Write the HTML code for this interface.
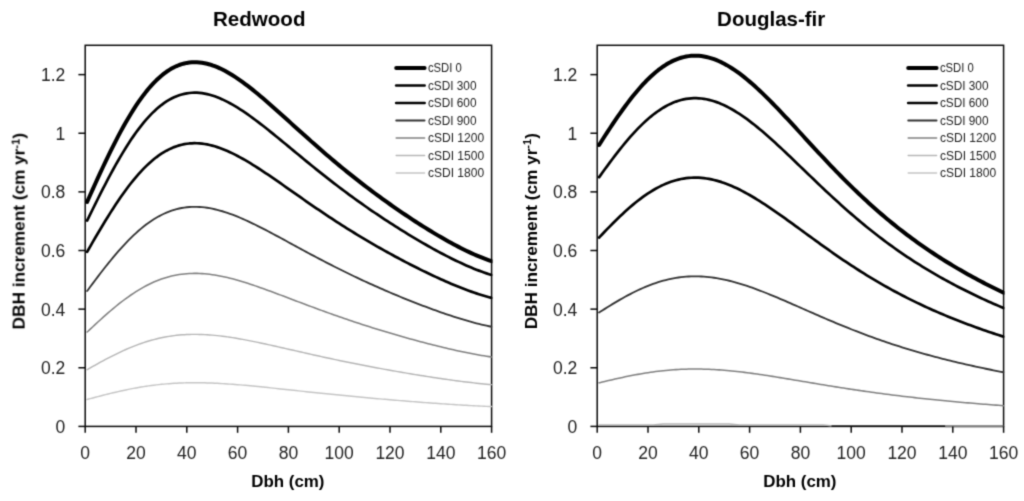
<!DOCTYPE html>
<html><head><meta charset="utf-8"><title>DBH increment</title>
<style>
html,body{margin:0;padding:0;background:#fff;}
svg{display:block;will-change:transform;}
text{font-family:"Liberation Sans",sans-serif;}
.tk{font-size:17.5px;fill:#222222;}
.ttl{font-size:20.8px;font-weight:bold;fill:#000;}
.axl{font-size:16.3px;font-weight:bold;fill:#000;}
.lg{font-size:13.6px;fill:#222222;}
</style></head><body>
<svg width="1024" height="501" viewBox="0 0 1024 501">
<defs><filter id="soft" x="0" y="0" width="1024" height="501" filterUnits="userSpaceOnUse" color-interpolation-filters="sRGB">
<feConvolveMatrix order="3" kernelMatrix="0.02768 0.11101 0.02768 0.11101 0.44521 0.11101 0.02768 0.11101 0.02768" divisor="1" edgeMode="none" preserveAlpha="false"/>
</filter></defs>
<rect x="0" y="0" width="1024" height="501" fill="#ffffff"/>
<g filter="url(#soft)">
<clipPath id="c0"><rect x="82.20" y="45.30" width="410.30" height="383.10"/></clipPath>
<rect x="85.20" y="45.30" width="406.40" height="381.10" fill="none" stroke="#0a0a0a" stroke-width="1.5"/>
<g clip-path="url(#c0)">
<path d="M87.11,201.87 L87.74,200.45 L90.28,194.77 L92.82,189.12 L95.36,183.51 L97.90,177.95 L100.44,172.44 L102.98,167.00 L105.52,161.63 L108.06,156.34 L110.60,151.14 L113.14,146.04 L115.68,141.05 L118.22,136.16 L120.76,131.40 L123.30,126.77 L125.84,122.26 L128.38,117.90 L130.92,113.68 L133.46,109.61 L136.00,105.69 L138.54,101.93 L141.08,98.34 L143.62,94.91 L146.16,91.64 L148.70,88.55 L151.24,85.63 L153.78,82.89 L156.32,80.31 L158.86,77.92 L161.40,75.70 L163.94,73.65 L166.48,71.78 L169.02,70.09 L171.56,68.56 L174.10,67.21 L176.64,66.02 L179.18,65.00 L181.72,64.14 L184.26,63.45 L186.80,62.91 L189.34,62.52 L191.88,62.28 L194.42,62.19 L196.96,62.24 L199.50,62.42 L202.04,62.74 L204.58,63.19 L207.12,63.76 L209.66,64.45 L212.20,65.26 L214.74,66.17 L217.28,67.19 L219.82,68.31 L222.36,69.53 L224.90,70.84 L227.44,72.23 L229.98,73.71 L232.52,75.26 L235.06,76.88 L237.60,78.58 L240.14,80.33 L242.68,82.15 L245.22,84.02 L247.76,85.94 L250.30,87.91 L252.84,89.92 L255.38,91.97 L257.92,94.06 L260.46,96.18 L263.00,98.33 L265.54,100.51 L268.08,102.71 L270.62,104.93 L273.16,107.17 L275.70,109.43 L278.24,111.69 L280.78,113.97 L283.32,116.25 L285.86,118.54 L288.40,120.83 L290.94,123.13 L293.48,125.43 L296.02,127.72 L298.56,130.01 L301.10,132.29 L303.64,134.57 L306.18,136.85 L308.72,139.11 L311.26,141.37 L313.80,143.61 L316.34,145.85 L318.88,148.07 L321.42,150.28 L323.96,152.48 L326.50,154.66 L329.04,156.83 L331.58,158.98 L334.12,161.12 L336.66,163.25 L339.20,165.36 L341.74,167.45 L344.28,169.53 L346.82,171.59 L349.36,173.64 L351.90,175.67 L354.44,177.68 L356.98,179.68 L359.52,181.66 L362.06,183.63 L364.60,185.58 L367.14,187.52 L369.68,189.44 L372.22,191.34 L374.76,193.23 L377.30,195.11 L379.84,196.96 L382.38,198.81 L384.92,200.64 L387.46,202.45 L390.00,204.25 L392.54,206.04 L395.08,207.81 L397.62,209.57 L400.16,211.31 L402.70,213.04 L405.24,214.75 L407.78,216.45 L410.32,218.13 L412.86,219.80 L415.40,221.46 L417.94,223.10 L420.48,224.72 L423.02,226.33 L425.56,227.92 L428.10,229.49 L430.64,231.05 L433.18,232.59 L435.72,234.11 L438.26,235.62 L440.80,237.10 L443.34,238.56 L445.88,240.01 L448.42,241.43 L450.96,242.83 L453.50,244.20 L456.04,245.55 L458.58,246.88 L461.12,248.18 L463.66,249.45 L466.20,250.69 L468.74,251.90 L471.28,253.08 L473.82,254.22 L476.36,255.33 L478.90,256.40 L481.44,257.44 L483.98,258.43 L486.52,259.38 L489.06,260.28 L491.60,261.14" fill="none" stroke="#000000" stroke-width="4.0" stroke-linejoin="round" stroke-linecap="round"/>
<path d="M87.11,220.66 L87.74,219.36 L90.28,214.16 L92.82,208.98 L95.36,203.84 L97.90,198.75 L100.44,193.70 L102.98,188.71 L105.52,183.79 L108.06,178.95 L110.60,174.18 L113.14,169.51 L115.68,164.93 L118.22,160.46 L120.76,156.10 L123.30,151.85 L125.84,147.72 L128.38,143.72 L130.92,139.86 L133.46,136.13 L136.00,132.54 L138.54,129.09 L141.08,125.80 L143.62,122.66 L146.16,119.67 L148.70,116.83 L151.24,114.16 L153.78,111.64 L156.32,109.29 L158.86,107.09 L161.40,105.06 L163.94,103.18 L166.48,101.47 L169.02,99.91 L171.56,98.52 L174.10,97.28 L176.64,96.19 L179.18,95.25 L181.72,94.47 L184.26,93.83 L186.80,93.33 L189.34,92.98 L191.88,92.76 L194.42,92.67 L196.96,92.72 L199.50,92.89 L202.04,93.18 L204.58,93.59 L207.12,94.12 L209.66,94.75 L212.20,95.49 L214.74,96.33 L217.28,97.26 L219.82,98.29 L222.36,99.40 L224.90,100.60 L227.44,101.88 L229.98,103.23 L232.52,104.65 L235.06,106.14 L237.60,107.69 L240.14,109.30 L242.68,110.96 L245.22,112.68 L247.76,114.44 L250.30,116.24 L252.84,118.09 L255.38,119.97 L257.92,121.88 L260.46,123.83 L263.00,125.80 L265.54,127.79 L268.08,129.81 L270.62,131.84 L273.16,133.89 L275.70,135.96 L278.24,138.04 L280.78,140.12 L283.32,142.21 L285.86,144.31 L288.40,146.41 L290.94,148.52 L293.48,150.62 L296.02,152.72 L298.56,154.82 L301.10,156.91 L303.64,159.00 L306.18,161.09 L308.72,163.16 L311.26,165.23 L313.80,167.28 L316.34,169.33 L318.88,171.37 L321.42,173.39 L323.96,175.41 L326.50,177.41 L329.04,179.39 L331.58,181.37 L334.12,183.33 L336.66,185.28 L339.20,187.21 L341.74,189.13 L344.28,191.03 L346.82,192.92 L349.36,194.80 L351.90,196.66 L354.44,198.50 L356.98,200.33 L359.52,202.15 L362.06,203.95 L364.60,205.74 L367.14,207.51 L369.68,209.27 L372.22,211.02 L374.76,212.75 L377.30,214.47 L379.84,216.17 L382.38,217.86 L384.92,219.54 L387.46,221.20 L390.00,222.85 L392.54,224.49 L395.08,226.11 L397.62,227.72 L400.16,229.32 L402.70,230.90 L405.24,232.47 L407.78,234.03 L410.32,235.57 L412.86,237.10 L415.40,238.61 L417.94,240.11 L420.48,241.60 L423.02,243.07 L425.56,244.53 L428.10,245.98 L430.64,247.40 L433.18,248.81 L435.72,250.21 L438.26,251.59 L440.80,252.95 L443.34,254.29 L445.88,255.61 L448.42,256.91 L450.96,258.19 L453.50,259.45 L456.04,260.69 L458.58,261.90 L461.12,263.09 L463.66,264.26 L466.20,265.40 L468.74,266.51 L471.28,267.58 L473.82,268.63 L476.36,269.65 L478.90,270.63 L481.44,271.58 L483.98,272.49 L486.52,273.36 L489.06,274.19 L491.60,274.97" fill="none" stroke="#000000" stroke-width="2.7" stroke-linejoin="round" stroke-linecap="round"/>
<path d="M87.11,251.82 L87.74,250.71 L90.28,246.30 L92.82,241.91 L95.36,237.55 L97.90,233.22 L100.44,228.94 L102.98,224.71 L105.52,220.53 L108.06,216.42 L110.60,212.38 L113.14,208.41 L115.68,204.53 L118.22,200.73 L120.76,197.03 L123.30,193.43 L125.84,189.93 L128.38,186.53 L130.92,183.25 L133.46,180.09 L136.00,177.04 L138.54,174.12 L141.08,171.32 L143.62,168.66 L146.16,166.12 L148.70,163.71 L151.24,161.44 L153.78,159.31 L156.32,157.31 L158.86,155.45 L161.40,153.72 L163.94,152.13 L166.48,150.68 L169.02,149.36 L171.56,148.17 L174.10,147.12 L176.64,146.20 L179.18,145.40 L181.72,144.74 L184.26,144.19 L186.80,143.77 L189.34,143.47 L191.88,143.29 L194.42,143.21 L196.96,143.25 L199.50,143.40 L202.04,143.65 L204.58,143.99 L207.12,144.44 L209.66,144.98 L212.20,145.60 L214.74,146.31 L217.28,147.11 L219.82,147.98 L222.36,148.92 L224.90,149.94 L227.44,151.02 L229.98,152.17 L232.52,153.38 L235.06,154.64 L237.60,155.96 L240.14,157.32 L242.68,158.73 L245.22,160.19 L247.76,161.68 L250.30,163.21 L252.84,164.78 L255.38,166.37 L257.92,168.00 L260.46,169.65 L263.00,171.32 L265.54,173.01 L268.08,174.72 L270.62,176.45 L273.16,178.19 L275.70,179.94 L278.24,181.71 L280.78,183.48 L283.32,185.25 L285.86,187.03 L288.40,188.81 L290.94,190.60 L293.48,192.38 L296.02,194.17 L298.56,195.95 L301.10,197.73 L303.64,199.50 L306.18,201.27 L308.72,203.03 L311.26,204.78 L313.80,206.53 L316.34,208.26 L318.88,209.99 L321.42,211.71 L323.96,213.42 L326.50,215.11 L329.04,216.80 L331.58,218.48 L334.12,220.14 L336.66,221.79 L339.20,223.43 L341.74,225.06 L344.28,226.68 L346.82,228.28 L349.36,229.87 L351.90,231.45 L354.44,233.01 L356.98,234.57 L359.52,236.11 L362.06,237.64 L364.60,239.16 L367.14,240.66 L369.68,242.15 L372.22,243.64 L374.76,245.10 L377.30,246.56 L379.84,248.01 L382.38,249.44 L384.92,250.86 L387.46,252.28 L390.00,253.68 L392.54,255.06 L395.08,256.44 L397.62,257.81 L400.16,259.16 L402.70,260.51 L405.24,261.84 L407.78,263.16 L410.32,264.47 L412.86,265.77 L415.40,267.05 L417.94,268.33 L420.48,269.59 L423.02,270.84 L425.56,272.07 L428.10,273.30 L430.64,274.51 L433.18,275.71 L435.72,276.89 L438.26,278.06 L440.80,279.21 L443.34,280.35 L445.88,281.47 L448.42,282.58 L450.96,283.67 L453.50,284.74 L456.04,285.79 L458.58,286.82 L461.12,287.83 L463.66,288.81 L466.20,289.78 L468.74,290.72 L471.28,291.64 L473.82,292.53 L476.36,293.39 L478.90,294.22 L481.44,295.03 L483.98,295.80 L486.52,296.54 L489.06,297.24 L491.60,297.91" fill="none" stroke="#000000" stroke-width="2.7" stroke-linejoin="round" stroke-linecap="round"/>
<path d="M87.11,291.04 L87.74,290.18 L90.28,286.76 L92.82,283.35 L95.36,279.97 L97.90,276.62 L100.44,273.30 L102.98,270.02 L105.52,266.78 L108.06,263.59 L110.60,260.46 L113.14,257.38 L115.68,254.37 L118.22,251.43 L120.76,248.56 L123.30,245.76 L125.84,243.05 L128.38,240.42 L130.92,237.87 L133.46,235.42 L136.00,233.06 L138.54,230.79 L141.08,228.62 L143.62,226.55 L146.16,224.59 L148.70,222.72 L151.24,220.96 L153.78,219.31 L156.32,217.76 L158.86,216.31 L161.40,214.97 L163.94,213.74 L166.48,212.61 L169.02,211.59 L171.56,210.67 L174.10,209.86 L176.64,209.14 L179.18,208.52 L181.72,208.01 L184.26,207.59 L186.80,207.26 L189.34,207.03 L191.88,206.88 L194.42,206.83 L196.96,206.86 L199.50,206.97 L202.04,207.16 L204.58,207.43 L207.12,207.78 L209.66,208.19 L212.20,208.68 L214.74,209.23 L217.28,209.85 L219.82,210.52 L222.36,211.26 L224.90,212.04 L227.44,212.88 L229.98,213.77 L232.52,214.71 L235.06,215.69 L237.60,216.71 L240.14,217.77 L242.68,218.86 L245.22,219.99 L247.76,221.15 L250.30,222.34 L252.84,223.55 L255.38,224.79 L257.92,226.05 L260.46,227.32 L263.00,228.62 L265.54,229.93 L268.08,231.26 L270.62,232.60 L273.16,233.95 L275.70,235.31 L278.24,236.67 L280.78,238.05 L283.32,239.42 L285.86,240.80 L288.40,242.19 L290.94,243.57 L293.48,244.95 L296.02,246.34 L298.56,247.72 L301.10,249.09 L303.64,250.47 L306.18,251.84 L308.72,253.20 L311.26,254.56 L313.80,255.92 L316.34,257.26 L318.88,258.60 L321.42,259.94 L323.96,261.26 L326.50,262.58 L329.04,263.88 L331.58,265.18 L334.12,266.47 L336.66,267.75 L339.20,269.03 L341.74,270.29 L344.28,271.54 L346.82,272.78 L349.36,274.02 L351.90,275.24 L354.44,276.46 L356.98,277.66 L359.52,278.86 L362.06,280.04 L364.60,281.22 L367.14,282.39 L369.68,283.54 L372.22,284.69 L374.76,285.83 L377.30,286.96 L379.84,288.08 L382.38,289.19 L384.92,290.30 L387.46,291.39 L390.00,292.48 L392.54,293.55 L395.08,294.62 L397.62,295.68 L400.16,296.73 L402.70,297.77 L405.24,298.80 L407.78,299.83 L410.32,300.84 L412.86,301.85 L415.40,302.85 L417.94,303.84 L420.48,304.81 L423.02,305.78 L425.56,306.74 L428.10,307.69 L430.64,308.63 L433.18,309.56 L435.72,310.48 L438.26,311.38 L440.80,312.28 L443.34,313.16 L445.88,314.03 L448.42,314.89 L450.96,315.73 L453.50,316.56 L456.04,317.37 L458.58,318.17 L461.12,318.95 L463.66,319.72 L466.20,320.47 L468.74,321.20 L471.28,321.91 L473.82,322.60 L476.36,323.27 L478.90,323.91 L481.44,324.54 L483.98,325.14 L486.52,325.71 L489.06,326.25 L491.60,326.77" fill="none" stroke="#333333" stroke-width="1.85" stroke-linejoin="round" stroke-linecap="round"/>
<path d="M87.11,332.06 L87.74,331.46 L90.28,329.08 L92.82,326.71 L95.36,324.35 L97.90,322.01 L100.44,319.70 L102.98,317.41 L105.52,315.15 L108.06,312.93 L110.60,310.75 L113.14,308.61 L115.68,306.51 L118.22,304.46 L120.76,302.46 L123.30,300.51 L125.84,298.62 L128.38,296.78 L130.92,295.01 L133.46,293.30 L136.00,291.65 L138.54,290.07 L141.08,288.56 L143.62,287.12 L146.16,285.75 L148.70,284.45 L151.24,283.22 L153.78,282.07 L156.32,280.99 L158.86,279.98 L161.40,279.05 L163.94,278.19 L166.48,277.41 L169.02,276.69 L171.56,276.05 L174.10,275.48 L176.64,274.99 L179.18,274.56 L181.72,274.20 L184.26,273.90 L186.80,273.68 L189.34,273.51 L191.88,273.41 L194.42,273.37 L196.96,273.39 L199.50,273.47 L202.04,273.61 L204.58,273.80 L207.12,274.04 L209.66,274.33 L212.20,274.66 L214.74,275.05 L217.28,275.48 L219.82,275.95 L222.36,276.46 L224.90,277.01 L227.44,277.59 L229.98,278.21 L232.52,278.87 L235.06,279.55 L237.60,280.26 L240.14,281.00 L242.68,281.76 L245.22,282.55 L247.76,283.35 L250.30,284.18 L252.84,285.03 L255.38,285.89 L257.92,286.77 L260.46,287.66 L263.00,288.56 L265.54,289.48 L268.08,290.40 L270.62,291.33 L273.16,292.28 L275.70,293.22 L278.24,294.17 L280.78,295.13 L283.32,296.09 L285.86,297.05 L288.40,298.02 L290.94,298.98 L293.48,299.94 L296.02,300.91 L298.56,301.87 L301.10,302.83 L303.64,303.79 L306.18,304.74 L308.72,305.69 L311.26,306.64 L313.80,307.59 L316.34,308.52 L318.88,309.46 L321.42,310.39 L323.96,311.31 L326.50,312.23 L329.04,313.14 L331.58,314.04 L334.12,314.94 L336.66,315.84 L339.20,316.72 L341.74,317.60 L344.28,318.47 L346.82,319.34 L349.36,320.20 L351.90,321.05 L354.44,321.90 L356.98,322.74 L359.52,323.57 L362.06,324.40 L364.60,325.22 L367.14,326.03 L369.68,326.84 L372.22,327.64 L374.76,328.43 L377.30,329.22 L379.84,330.00 L382.38,330.78 L384.92,331.55 L387.46,332.31 L390.00,333.06 L392.54,333.81 L395.08,334.56 L397.62,335.30 L400.16,336.03 L402.70,336.76 L405.24,337.48 L407.78,338.19 L410.32,338.90 L412.86,339.60 L415.40,340.29 L417.94,340.98 L420.48,341.66 L423.02,342.34 L425.56,343.01 L428.10,343.67 L430.64,344.32 L433.18,344.97 L435.72,345.61 L438.26,346.24 L440.80,346.86 L443.34,347.48 L445.88,348.09 L448.42,348.68 L450.96,349.27 L453.50,349.85 L456.04,350.42 L458.58,350.97 L461.12,351.52 L463.66,352.05 L466.20,352.57 L468.74,353.08 L471.28,353.58 L473.82,354.06 L476.36,354.52 L478.90,354.97 L481.44,355.41 L483.98,355.83 L486.52,356.23 L489.06,356.61 L491.60,356.97" fill="none" stroke="#808080" stroke-width="1.55" stroke-linejoin="round" stroke-linecap="round"/>
<path d="M87.11,369.65 L87.74,369.29 L90.28,367.86 L92.82,366.43 L95.36,365.01 L97.90,363.61 L100.44,362.22 L102.98,360.84 L105.52,359.48 L108.06,358.15 L110.60,356.83 L113.14,355.54 L115.68,354.28 L118.22,353.05 L120.76,351.84 L123.30,350.67 L125.84,349.53 L128.38,348.43 L130.92,347.36 L133.46,346.34 L136.00,345.35 L138.54,344.40 L141.08,343.49 L143.62,342.62 L146.16,341.79 L148.70,341.01 L151.24,340.28 L153.78,339.58 L156.32,338.93 L158.86,338.33 L161.40,337.76 L163.94,337.25 L166.48,336.78 L169.02,336.35 L171.56,335.96 L174.10,335.62 L176.64,335.32 L179.18,335.06 L181.72,334.84 L184.26,334.67 L186.80,334.53 L189.34,334.43 L191.88,334.37 L194.42,334.35 L196.96,334.36 L199.50,334.41 L202.04,334.49 L204.58,334.60 L207.12,334.75 L209.66,334.92 L212.20,335.13 L214.74,335.36 L217.28,335.62 L219.82,335.90 L222.36,336.21 L224.90,336.54 L227.44,336.89 L229.98,337.26 L232.52,337.65 L235.06,338.06 L237.60,338.49 L240.14,338.94 L242.68,339.39 L245.22,339.87 L247.76,340.35 L250.30,340.85 L252.84,341.36 L255.38,341.88 L257.92,342.41 L260.46,342.94 L263.00,343.49 L265.54,344.04 L268.08,344.59 L270.62,345.15 L273.16,345.72 L275.70,346.29 L278.24,346.86 L280.78,347.44 L283.32,348.01 L285.86,348.59 L288.40,349.17 L290.94,349.75 L293.48,350.33 L296.02,350.91 L298.56,351.49 L301.10,352.07 L303.64,352.65 L306.18,353.22 L308.72,353.79 L311.26,354.36 L313.80,354.93 L316.34,355.49 L318.88,356.06 L321.42,356.61 L323.96,357.17 L326.50,357.72 L329.04,358.27 L331.58,358.81 L334.12,359.35 L336.66,359.89 L339.20,360.42 L341.74,360.95 L344.28,361.48 L346.82,362.00 L349.36,362.52 L351.90,363.03 L354.44,363.54 L356.98,364.04 L359.52,364.55 L362.06,365.04 L364.60,365.54 L367.14,366.03 L369.68,366.51 L372.22,366.99 L374.76,367.47 L377.30,367.94 L379.84,368.41 L382.38,368.88 L384.92,369.34 L387.46,369.80 L390.00,370.26 L392.54,370.71 L395.08,371.15 L397.62,371.60 L400.16,372.04 L402.70,372.48 L405.24,372.91 L407.78,373.34 L410.32,373.76 L412.86,374.19 L415.40,374.60 L417.94,375.02 L420.48,375.43 L423.02,375.83 L425.56,376.24 L428.10,376.63 L430.64,377.03 L433.18,377.42 L435.72,377.80 L438.26,378.18 L440.80,378.56 L443.34,378.93 L445.88,379.29 L448.42,379.65 L450.96,380.00 L453.50,380.35 L456.04,380.69 L458.58,381.03 L461.12,381.36 L463.66,381.68 L466.20,381.99 L468.74,382.30 L471.28,382.59 L473.82,382.88 L476.36,383.16 L478.90,383.44 L481.44,383.70 L483.98,383.95 L486.52,384.19 L489.06,384.42 L491.60,384.63" fill="none" stroke="#b6b6b6" stroke-width="1.45" stroke-linejoin="round" stroke-linecap="round"/>
<path d="M87.11,399.47 L87.74,399.30 L90.28,398.62 L92.82,397.94 L95.36,397.27 L97.90,396.60 L100.44,395.94 L102.98,395.29 L105.52,394.65 L108.06,394.01 L110.60,393.39 L113.14,392.78 L115.68,392.18 L118.22,391.59 L120.76,391.02 L123.30,390.47 L125.84,389.93 L128.38,389.40 L130.92,388.90 L133.46,388.41 L136.00,387.94 L138.54,387.49 L141.08,387.06 L143.62,386.64 L146.16,386.25 L148.70,385.88 L151.24,385.53 L153.78,385.20 L156.32,384.89 L158.86,384.61 L161.40,384.34 L163.94,384.10 L166.48,383.87 L169.02,383.67 L171.56,383.48 L174.10,383.32 L176.64,383.18 L179.18,383.06 L181.72,382.95 L184.26,382.87 L186.80,382.81 L189.34,382.76 L191.88,382.73 L194.42,382.72 L196.96,382.73 L199.50,382.75 L202.04,382.79 L204.58,382.84 L207.12,382.91 L209.66,382.99 L212.20,383.09 L214.74,383.20 L217.28,383.32 L219.82,383.46 L222.36,383.60 L224.90,383.76 L227.44,383.92 L229.98,384.10 L232.52,384.29 L235.06,384.48 L237.60,384.69 L240.14,384.90 L242.68,385.11 L245.22,385.34 L247.76,385.57 L250.30,385.80 L252.84,386.05 L255.38,386.29 L257.92,386.54 L260.46,386.80 L263.00,387.06 L265.54,387.32 L268.08,387.58 L270.62,387.85 L273.16,388.12 L275.70,388.39 L278.24,388.66 L280.78,388.93 L283.32,389.20 L285.86,389.48 L288.40,389.75 L290.94,390.03 L293.48,390.30 L296.02,390.58 L298.56,390.85 L301.10,391.13 L303.64,391.40 L306.18,391.67 L308.72,391.95 L311.26,392.22 L313.80,392.49 L316.34,392.75 L318.88,393.02 L321.42,393.29 L323.96,393.55 L326.50,393.81 L329.04,394.07 L331.58,394.33 L334.12,394.59 L336.66,394.84 L339.20,395.09 L341.74,395.34 L344.28,395.59 L346.82,395.84 L349.36,396.09 L351.90,396.33 L354.44,396.57 L356.98,396.81 L359.52,397.05 L362.06,397.28 L364.60,397.52 L367.14,397.75 L369.68,397.98 L372.22,398.21 L374.76,398.44 L377.30,398.66 L379.84,398.88 L382.38,399.11 L384.92,399.32 L387.46,399.54 L390.00,399.76 L392.54,399.97 L395.08,400.18 L397.62,400.40 L400.16,400.60 L402.70,400.81 L405.24,401.02 L407.78,401.22 L410.32,401.42 L412.86,401.62 L415.40,401.82 L417.94,402.02 L420.48,402.21 L423.02,402.41 L425.56,402.60 L428.10,402.79 L430.64,402.97 L433.18,403.16 L435.72,403.34 L438.26,403.52 L440.80,403.70 L443.34,403.87 L445.88,404.05 L448.42,404.22 L450.96,404.38 L453.50,404.55 L456.04,404.71 L458.58,404.87 L461.12,405.03 L463.66,405.18 L466.20,405.33 L468.74,405.47 L471.28,405.61 L473.82,405.75 L476.36,405.88 L478.90,406.01 L481.44,406.14 L483.98,406.26 L486.52,406.37 L489.06,406.48 L491.60,406.58" fill="none" stroke="#c5c5c5" stroke-width="1.45" stroke-linejoin="round" stroke-linecap="round"/>
</g>
<line x1="78.40" y1="426.40" x2="85.20" y2="426.40" stroke="#0a0a0a" stroke-width="1.5"/>
<text x="65.30" y="432.90" text-anchor="end" class="tk">0</text>
<line x1="78.40" y1="367.77" x2="85.20" y2="367.77" stroke="#0a0a0a" stroke-width="1.5"/>
<text x="65.30" y="374.27" text-anchor="end" class="tk">0.2</text>
<line x1="78.40" y1="309.14" x2="85.20" y2="309.14" stroke="#0a0a0a" stroke-width="1.5"/>
<text x="65.30" y="315.64" text-anchor="end" class="tk">0.4</text>
<line x1="78.40" y1="250.51" x2="85.20" y2="250.51" stroke="#0a0a0a" stroke-width="1.5"/>
<text x="65.30" y="257.01" text-anchor="end" class="tk">0.6</text>
<line x1="78.40" y1="191.88" x2="85.20" y2="191.88" stroke="#0a0a0a" stroke-width="1.5"/>
<text x="65.30" y="198.38" text-anchor="end" class="tk">0.8</text>
<line x1="78.40" y1="133.25" x2="85.20" y2="133.25" stroke="#0a0a0a" stroke-width="1.5"/>
<text x="65.30" y="139.75" text-anchor="end" class="tk">1</text>
<line x1="78.40" y1="74.62" x2="85.20" y2="74.62" stroke="#0a0a0a" stroke-width="1.5"/>
<text x="65.30" y="81.12" text-anchor="end" class="tk">1.2</text>
<line x1="85.20" y1="426.40" x2="85.20" y2="432.80" stroke="#0a0a0a" stroke-width="1.5"/>
<text x="85.20" y="458.8" text-anchor="middle" class="tk">0</text>
<line x1="136.00" y1="426.40" x2="136.00" y2="432.80" stroke="#0a0a0a" stroke-width="1.5"/>
<text x="136.00" y="458.8" text-anchor="middle" class="tk">20</text>
<line x1="186.80" y1="426.40" x2="186.80" y2="432.80" stroke="#0a0a0a" stroke-width="1.5"/>
<text x="186.80" y="458.8" text-anchor="middle" class="tk">40</text>
<line x1="237.60" y1="426.40" x2="237.60" y2="432.80" stroke="#0a0a0a" stroke-width="1.5"/>
<text x="237.60" y="458.8" text-anchor="middle" class="tk">60</text>
<line x1="288.40" y1="426.40" x2="288.40" y2="432.80" stroke="#0a0a0a" stroke-width="1.5"/>
<text x="288.40" y="458.8" text-anchor="middle" class="tk">80</text>
<line x1="339.20" y1="426.40" x2="339.20" y2="432.80" stroke="#0a0a0a" stroke-width="1.5"/>
<text x="339.20" y="458.8" text-anchor="middle" class="tk">100</text>
<line x1="390.00" y1="426.40" x2="390.00" y2="432.80" stroke="#0a0a0a" stroke-width="1.5"/>
<text x="390.00" y="458.8" text-anchor="middle" class="tk">120</text>
<line x1="440.80" y1="426.40" x2="440.80" y2="432.80" stroke="#0a0a0a" stroke-width="1.5"/>
<text x="440.80" y="458.8" text-anchor="middle" class="tk">140</text>
<line x1="491.60" y1="426.40" x2="491.60" y2="432.80" stroke="#0a0a0a" stroke-width="1.5"/>
<text x="491.60" y="458.8" text-anchor="middle" class="tk">160</text>
<text x="259.20" y="25.8" text-anchor="middle" class="ttl" textLength="92.6" lengthAdjust="spacingAndGlyphs">Redwood</text>
<text x="287.90" y="486.9" text-anchor="middle" class="axl" textLength="73.2" lengthAdjust="spacingAndGlyphs">Dbh (cm)</text>
<text transform="translate(24.60,231.2) rotate(-90)" text-anchor="middle" class="axl" textLength="196.3" lengthAdjust="spacingAndGlyphs">DBH increment (cm yr<tspan dy="-5.5" font-size="10.5">-1</tspan><tspan dy="5.5">)</tspan></text>
<line x1="396.20" y1="68.00" x2="424.60" y2="68.00" stroke="#000000" stroke-width="4.0" stroke-linecap="round"/>
<text x="427.90" y="72.20" class="lg" textLength="33.9" lengthAdjust="spacingAndGlyphs">cSDI 0</text>
<line x1="396.20" y1="85.50" x2="424.60" y2="85.50" stroke="#000000" stroke-width="2.7" stroke-linecap="round"/>
<text x="427.90" y="89.70" class="lg" textLength="48.6" lengthAdjust="spacingAndGlyphs">cSDI 300</text>
<line x1="396.20" y1="103.00" x2="424.60" y2="103.00" stroke="#000000" stroke-width="2.7" stroke-linecap="round"/>
<text x="427.90" y="107.20" class="lg" textLength="48.6" lengthAdjust="spacingAndGlyphs">cSDI 600</text>
<line x1="396.20" y1="120.50" x2="424.60" y2="120.50" stroke="#333333" stroke-width="1.85" stroke-linecap="round"/>
<text x="427.90" y="124.70" class="lg" textLength="48.6" lengthAdjust="spacingAndGlyphs">cSDI 900</text>
<line x1="396.20" y1="138.00" x2="424.60" y2="138.00" stroke="#808080" stroke-width="1.55" stroke-linecap="round"/>
<text x="427.90" y="142.20" class="lg" textLength="56.3" lengthAdjust="spacingAndGlyphs">cSDI 1200</text>
<line x1="396.20" y1="155.50" x2="424.60" y2="155.50" stroke="#b6b6b6" stroke-width="1.45" stroke-linecap="round"/>
<text x="427.90" y="159.70" class="lg" textLength="56.3" lengthAdjust="spacingAndGlyphs">cSDI 1500</text>
<line x1="396.20" y1="173.00" x2="424.60" y2="173.00" stroke="#c5c5c5" stroke-width="1.45" stroke-linecap="round"/>
<text x="427.90" y="177.20" class="lg" textLength="56.3" lengthAdjust="spacingAndGlyphs">cSDI 1800</text>
<clipPath id="c512"><rect x="594.20" y="45.30" width="410.30" height="383.10"/></clipPath>
<rect x="597.20" y="45.30" width="406.40" height="381.10" fill="none" stroke="#0a0a0a" stroke-width="1.5"/>
<g clip-path="url(#c512)">
<path d="M599.11,144.99 L599.74,143.99 L602.28,139.99 L604.82,136.03 L607.36,132.11 L609.90,128.23 L612.44,124.41 L614.98,120.64 L617.52,116.93 L620.06,113.29 L622.60,109.72 L625.14,106.24 L627.68,102.84 L630.22,99.52 L632.76,96.30 L635.30,93.18 L637.84,90.17 L640.38,87.26 L642.92,84.46 L645.46,81.77 L648.00,79.21 L650.54,76.77 L653.08,74.45 L655.62,72.26 L658.16,70.20 L660.70,68.27 L663.24,66.48 L665.78,64.82 L668.32,63.30 L670.86,61.91 L673.40,60.67 L675.94,59.56 L678.48,58.60 L681.02,57.77 L683.56,57.08 L686.10,56.53 L688.64,56.12 L691.18,55.84 L693.72,55.70 L696.26,55.69 L698.80,55.81 L701.34,56.06 L703.88,56.44 L706.42,56.95 L708.96,57.57 L711.50,58.32 L714.04,59.18 L716.58,60.16 L719.12,61.24 L721.66,62.43 L724.20,63.73 L726.74,65.13 L729.28,66.62 L731.82,68.21 L734.36,69.88 L736.90,71.64 L739.44,73.49 L741.98,75.41 L744.52,77.40 L747.06,79.47 L749.60,81.61 L752.14,83.80 L754.68,86.06 L757.22,88.37 L759.76,90.74 L762.30,93.15 L764.84,95.61 L767.38,98.12 L769.92,100.66 L772.46,103.23 L775.00,105.84 L777.54,108.47 L780.08,111.13 L782.62,113.82 L785.16,116.52 L787.70,119.24 L790.24,121.97 L792.78,124.72 L795.32,127.47 L797.86,130.23 L800.40,133.00 L802.94,135.76 L805.48,138.53 L808.02,141.29 L810.56,144.05 L813.10,146.80 L815.64,149.55 L818.18,152.28 L820.72,155.01 L823.26,157.72 L825.80,160.42 L828.34,163.10 L830.88,165.77 L833.42,168.41 L835.96,171.04 L838.50,173.65 L841.04,176.24 L843.58,178.81 L846.12,181.35 L848.66,183.88 L851.20,186.37 L853.74,188.85 L856.28,191.30 L858.82,193.72 L861.36,196.12 L863.90,198.50 L866.44,200.84 L868.98,203.17 L871.52,205.46 L874.06,207.73 L876.60,209.97 L879.14,212.19 L881.68,214.37 L884.22,216.54 L886.76,218.67 L889.30,220.78 L891.84,222.86 L894.38,224.92 L896.92,226.95 L899.46,228.95 L902.00,230.93 L904.54,232.88 L907.08,234.81 L909.62,236.72 L912.16,238.60 L914.70,240.45 L917.24,242.28 L919.78,244.09 L922.32,245.87 L924.86,247.63 L927.40,249.37 L929.94,251.09 L932.48,252.78 L935.02,254.46 L937.56,256.11 L940.10,257.74 L942.64,259.35 L945.18,260.94 L947.72,262.51 L950.26,264.06 L952.80,265.60 L955.34,267.11 L957.88,268.61 L960.42,270.09 L962.96,271.55 L965.50,272.99 L968.04,274.41 L970.58,275.82 L973.12,277.21 L975.66,278.59 L978.20,279.95 L980.74,281.29 L983.28,282.62 L985.82,283.93 L988.36,285.23 L990.90,286.51 L993.44,287.78 L995.98,289.03 L998.52,290.27 L1001.06,291.49 L1003.60,292.70" fill="none" stroke="#000000" stroke-width="4.0" stroke-linejoin="round" stroke-linecap="round"/>
<path d="M599.11,177.24 L599.74,176.35 L602.28,172.81 L604.82,169.30 L607.36,165.83 L609.90,162.40 L612.44,159.01 L614.98,155.67 L617.52,152.39 L620.06,149.17 L622.60,146.01 L625.14,142.92 L627.68,139.91 L630.22,136.98 L632.76,134.13 L635.30,131.36 L637.84,128.69 L640.38,126.11 L642.92,123.64 L645.46,121.26 L648.00,118.99 L650.54,116.83 L653.08,114.78 L655.62,112.84 L658.16,111.01 L660.70,109.30 L663.24,107.72 L665.78,106.25 L668.32,104.90 L670.86,103.68 L673.40,102.57 L675.94,101.60 L678.48,100.74 L681.02,100.01 L683.56,99.40 L686.10,98.91 L688.64,98.55 L691.18,98.30 L693.72,98.17 L696.26,98.17 L698.80,98.28 L701.34,98.50 L703.88,98.83 L706.42,99.28 L708.96,99.83 L711.50,100.49 L714.04,101.26 L716.58,102.12 L719.12,103.08 L721.66,104.14 L724.20,105.29 L726.74,106.52 L729.28,107.84 L731.82,109.25 L734.36,110.73 L736.90,112.29 L739.44,113.92 L741.98,115.63 L744.52,117.39 L747.06,119.22 L749.60,121.11 L752.14,123.06 L754.68,125.06 L757.22,127.11 L759.76,129.20 L762.30,131.34 L764.84,133.52 L767.38,135.73 L769.92,137.98 L772.46,140.26 L775.00,142.57 L777.54,144.90 L780.08,147.26 L782.62,149.63 L785.16,152.03 L787.70,154.43 L790.24,156.85 L792.78,159.28 L795.32,161.72 L797.86,164.17 L800.40,166.61 L802.94,169.06 L805.48,171.51 L808.02,173.96 L810.56,176.40 L813.10,178.84 L815.64,181.27 L818.18,183.69 L820.72,186.11 L823.26,188.51 L825.80,190.90 L828.34,193.27 L830.88,195.63 L833.42,197.97 L835.96,200.30 L838.50,202.61 L841.04,204.91 L843.58,207.18 L846.12,209.43 L848.66,211.67 L851.20,213.88 L853.74,216.07 L856.28,218.24 L858.82,220.38 L861.36,222.51 L863.90,224.61 L866.44,226.69 L868.98,228.74 L871.52,230.78 L874.06,232.78 L876.60,234.77 L879.14,236.73 L881.68,238.67 L884.22,240.58 L886.76,242.47 L889.30,244.34 L891.84,246.18 L894.38,248.00 L896.92,249.80 L899.46,251.58 L902.00,253.33 L904.54,255.06 L907.08,256.77 L909.62,258.45 L912.16,260.11 L914.70,261.76 L917.24,263.38 L919.78,264.98 L922.32,266.56 L924.86,268.12 L927.40,269.66 L929.94,271.18 L932.48,272.68 L935.02,274.16 L937.56,275.62 L940.10,277.06 L942.64,278.49 L945.18,279.90 L947.72,281.29 L950.26,282.67 L952.80,284.02 L955.34,285.36 L957.88,286.69 L960.42,288.00 L962.96,289.29 L965.50,290.57 L968.04,291.83 L970.58,293.08 L973.12,294.31 L975.66,295.53 L978.20,296.73 L980.74,297.92 L983.28,299.10 L985.82,300.26 L988.36,301.41 L990.90,302.54 L993.44,303.66 L995.98,304.77 L998.52,305.87 L1001.06,306.95 L1003.60,308.02" fill="none" stroke="#000000" stroke-width="2.7" stroke-linejoin="round" stroke-linecap="round"/>
<path d="M599.11,237.56 L599.74,236.89 L602.28,234.21 L604.82,231.55 L607.36,228.92 L609.90,226.32 L612.44,223.75 L614.98,221.22 L617.52,218.73 L620.06,216.29 L622.60,213.90 L625.14,211.56 L627.68,209.27 L630.22,207.05 L632.76,204.89 L635.30,202.80 L637.84,200.77 L640.38,198.82 L642.92,196.94 L645.46,195.14 L648.00,193.42 L650.54,191.78 L653.08,190.23 L655.62,188.76 L658.16,187.37 L660.70,186.08 L663.24,184.88 L665.78,183.76 L668.32,182.74 L670.86,181.81 L673.40,180.98 L675.94,180.24 L678.48,179.59 L681.02,179.03 L683.56,178.57 L686.10,178.20 L688.64,177.92 L691.18,177.74 L693.72,177.64 L696.26,177.64 L698.80,177.72 L701.34,177.89 L703.88,178.14 L706.42,178.48 L708.96,178.90 L711.50,179.40 L714.04,179.98 L716.58,180.63 L719.12,181.36 L721.66,182.16 L724.20,183.03 L726.74,183.97 L729.28,184.97 L731.82,186.04 L734.36,187.16 L736.90,188.34 L739.44,189.58 L741.98,190.87 L744.52,192.21 L747.06,193.60 L749.60,195.03 L752.14,196.50 L754.68,198.02 L757.22,199.57 L759.76,201.16 L762.30,202.78 L764.84,204.43 L767.38,206.11 L769.92,207.81 L772.46,209.54 L775.00,211.29 L777.54,213.06 L780.08,214.84 L782.62,216.64 L785.16,218.46 L787.70,220.28 L790.24,222.12 L792.78,223.96 L795.32,225.81 L797.86,227.66 L800.40,229.51 L802.94,231.37 L805.48,233.23 L808.02,235.08 L810.56,236.93 L813.10,238.78 L815.64,240.62 L818.18,242.46 L820.72,244.29 L823.26,246.10 L825.80,247.92 L828.34,249.72 L830.88,251.50 L833.42,253.28 L835.96,255.05 L838.50,256.80 L841.04,258.53 L843.58,260.26 L846.12,261.96 L848.66,263.66 L851.20,265.33 L853.74,266.99 L856.28,268.64 L858.82,270.26 L861.36,271.87 L863.90,273.47 L866.44,275.04 L868.98,276.60 L871.52,278.14 L874.06,279.66 L876.60,281.17 L879.14,282.65 L881.68,284.12 L884.22,285.57 L886.76,287.00 L889.30,288.42 L891.84,289.82 L894.38,291.20 L896.92,292.56 L899.46,293.90 L902.00,295.23 L904.54,296.54 L907.08,297.84 L909.62,299.11 L912.16,300.38 L914.70,301.62 L917.24,302.85 L919.78,304.06 L922.32,305.26 L924.86,306.44 L927.40,307.61 L929.94,308.76 L932.48,309.90 L935.02,311.02 L937.56,312.13 L940.10,313.22 L942.64,314.30 L945.18,315.37 L947.72,316.42 L950.26,317.47 L952.80,318.49 L955.34,319.51 L957.88,320.51 L960.42,321.51 L962.96,322.49 L965.50,323.45 L968.04,324.41 L970.58,325.36 L973.12,326.29 L975.66,327.21 L978.20,328.13 L980.74,329.03 L983.28,329.92 L985.82,330.80 L988.36,331.67 L990.90,332.53 L993.44,333.38 L995.98,334.22 L998.52,335.05 L1001.06,335.87 L1003.60,336.68" fill="none" stroke="#000000" stroke-width="2.7" stroke-linejoin="round" stroke-linecap="round"/>
<path d="M599.11,312.49 L599.74,312.08 L602.28,310.47 L604.82,308.86 L607.36,307.27 L609.90,305.70 L612.44,304.16 L614.98,302.63 L617.52,301.13 L620.06,299.66 L622.60,298.21 L625.14,296.80 L627.68,295.42 L630.22,294.08 L632.76,292.78 L635.30,291.52 L637.84,290.29 L640.38,289.12 L642.92,287.98 L645.46,286.90 L648.00,285.86 L650.54,284.87 L653.08,283.93 L655.62,283.05 L658.16,282.21 L660.70,281.43 L663.24,280.71 L665.78,280.03 L668.32,279.42 L670.86,278.86 L673.40,278.35 L675.94,277.91 L678.48,277.52 L681.02,277.18 L683.56,276.90 L686.10,276.68 L688.64,276.51 L691.18,276.40 L693.72,276.34 L696.26,276.34 L698.80,276.39 L701.34,276.49 L703.88,276.64 L706.42,276.85 L708.96,277.10 L711.50,277.40 L714.04,277.75 L716.58,278.15 L719.12,278.59 L721.66,279.07 L724.20,279.59 L726.74,280.16 L729.28,280.76 L731.82,281.41 L734.36,282.08 L736.90,282.80 L739.44,283.54 L741.98,284.32 L744.52,285.13 L747.06,285.97 L749.60,286.83 L752.14,287.72 L754.68,288.63 L757.22,289.57 L759.76,290.53 L762.30,291.50 L764.84,292.50 L767.38,293.51 L769.92,294.54 L772.46,295.58 L775.00,296.64 L777.54,297.71 L780.08,298.78 L782.62,299.87 L785.16,300.96 L787.70,302.06 L790.24,303.17 L792.78,304.28 L795.32,305.40 L797.86,306.51 L800.40,307.63 L802.94,308.75 L805.48,309.87 L808.02,310.99 L810.56,312.11 L813.10,313.22 L815.64,314.33 L818.18,315.44 L820.72,316.54 L823.26,317.64 L825.80,318.73 L828.34,319.82 L830.88,320.90 L833.42,321.97 L835.96,323.03 L838.50,324.09 L841.04,325.14 L843.58,326.18 L846.12,327.21 L848.66,328.23 L851.20,329.24 L853.74,330.24 L856.28,331.23 L858.82,332.21 L861.36,333.19 L863.90,334.15 L866.44,335.10 L868.98,336.04 L871.52,336.97 L874.06,337.88 L876.60,338.79 L879.14,339.69 L881.68,340.57 L884.22,341.45 L886.76,342.31 L889.30,343.17 L891.84,344.01 L894.38,344.84 L896.92,345.66 L899.46,346.47 L902.00,347.28 L904.54,348.07 L907.08,348.85 L909.62,349.62 L912.16,350.38 L914.70,351.13 L917.24,351.87 L919.78,352.60 L922.32,353.32 L924.86,354.04 L927.40,354.74 L929.94,355.44 L932.48,356.12 L935.02,356.80 L937.56,357.47 L940.10,358.13 L942.64,358.78 L945.18,359.42 L947.72,360.06 L950.26,360.69 L952.80,361.31 L955.34,361.92 L957.88,362.53 L960.42,363.13 L962.96,363.72 L965.50,364.30 L968.04,364.88 L970.58,365.45 L973.12,366.01 L975.66,366.57 L978.20,367.12 L980.74,367.66 L983.28,368.20 L985.82,368.73 L988.36,369.26 L990.90,369.77 L993.44,370.29 L995.98,370.79 L998.52,371.29 L1001.06,371.79 L1003.60,372.28" fill="none" stroke="#333333" stroke-width="1.85" stroke-linejoin="round" stroke-linecap="round"/>
<path d="M599.11,382.85 L599.74,382.70 L602.28,382.08 L604.82,381.46 L607.36,380.86 L609.90,380.26 L612.44,379.67 L614.98,379.08 L617.52,378.51 L620.06,377.95 L622.60,377.39 L625.14,376.85 L627.68,376.33 L630.22,375.81 L632.76,375.32 L635.30,374.83 L637.84,374.37 L640.38,373.92 L642.92,373.48 L645.46,373.07 L648.00,372.67 L650.54,372.29 L653.08,371.93 L655.62,371.60 L658.16,371.28 L660.70,370.98 L663.24,370.70 L665.78,370.44 L668.32,370.21 L670.86,369.99 L673.40,369.80 L675.94,369.63 L678.48,369.48 L681.02,369.35 L683.56,369.25 L686.10,369.16 L688.64,369.10 L691.18,369.06 L693.72,369.03 L696.26,369.03 L698.80,369.05 L701.34,369.09 L703.88,369.15 L706.42,369.23 L708.96,369.32 L711.50,369.44 L714.04,369.57 L716.58,369.72 L719.12,369.89 L721.66,370.08 L724.20,370.28 L726.74,370.49 L729.28,370.72 L731.82,370.97 L734.36,371.23 L736.90,371.50 L739.44,371.79 L741.98,372.08 L744.52,372.39 L747.06,372.71 L749.60,373.04 L752.14,373.38 L754.68,373.73 L757.22,374.09 L759.76,374.46 L762.30,374.83 L764.84,375.21 L767.38,375.60 L769.92,375.99 L772.46,376.39 L775.00,376.79 L777.54,377.20 L780.08,377.61 L782.62,378.03 L785.16,378.45 L787.70,378.87 L790.24,379.29 L792.78,379.71 L795.32,380.14 L797.86,380.57 L800.40,380.99 L802.94,381.42 L805.48,381.85 L808.02,382.28 L810.56,382.71 L813.10,383.13 L815.64,383.56 L818.18,383.98 L820.72,384.40 L823.26,384.82 L825.80,385.24 L828.34,385.65 L830.88,386.07 L833.42,386.48 L835.96,386.88 L838.50,387.29 L841.04,387.69 L843.58,388.08 L846.12,388.48 L848.66,388.87 L851.20,389.26 L853.74,389.64 L856.28,390.02 L858.82,390.39 L861.36,390.76 L863.90,391.13 L866.44,391.49 L868.98,391.85 L871.52,392.21 L874.06,392.56 L876.60,392.91 L879.14,393.25 L881.68,393.59 L884.22,393.92 L886.76,394.25 L889.30,394.58 L891.84,394.90 L894.38,395.22 L896.92,395.53 L899.46,395.84 L902.00,396.15 L904.54,396.45 L907.08,396.75 L909.62,397.05 L912.16,397.34 L914.70,397.62 L917.24,397.91 L919.78,398.19 L922.32,398.46 L924.86,398.74 L927.40,399.00 L929.94,399.27 L932.48,399.53 L935.02,399.79 L937.56,400.05 L940.10,400.30 L942.64,400.55 L945.18,400.79 L947.72,401.04 L950.26,401.28 L952.80,401.52 L955.34,401.75 L957.88,401.98 L960.42,402.21 L962.96,402.44 L965.50,402.66 L968.04,402.88 L970.58,403.10 L973.12,403.31 L975.66,403.53 L978.20,403.74 L980.74,403.94 L983.28,404.15 L985.82,404.35 L988.36,404.55 L990.90,404.75 L993.44,404.95 L995.98,405.14 L998.52,405.33 L1001.06,405.52 L1003.60,405.71" fill="none" stroke="#808080" stroke-width="1.55" stroke-linejoin="round" stroke-linecap="round"/>
<path d="M830.88,425.61 L945.18,425.61" fill="none" stroke="#1a1a1a" stroke-width="0.7"/><path d="M599.11,424.88 L653.08,424.88 L663.24,424.11 L729.28,424.11 L739.44,424.88 L823.26,424.88 L830.88,425.81" fill="none" stroke="#b4b4b4" stroke-width="1.5" stroke-linejoin="round" stroke-linecap="round"/><path d="M945.18,426.40 L1003.60,426.40" fill="none" stroke="#7c7c7c" stroke-width="1.6"/>
</g>
<line x1="590.40" y1="426.40" x2="597.20" y2="426.40" stroke="#0a0a0a" stroke-width="1.5"/>
<text x="577.30" y="432.90" text-anchor="end" class="tk">0</text>
<line x1="590.40" y1="367.77" x2="597.20" y2="367.77" stroke="#0a0a0a" stroke-width="1.5"/>
<text x="577.30" y="374.27" text-anchor="end" class="tk">0.2</text>
<line x1="590.40" y1="309.14" x2="597.20" y2="309.14" stroke="#0a0a0a" stroke-width="1.5"/>
<text x="577.30" y="315.64" text-anchor="end" class="tk">0.4</text>
<line x1="590.40" y1="250.51" x2="597.20" y2="250.51" stroke="#0a0a0a" stroke-width="1.5"/>
<text x="577.30" y="257.01" text-anchor="end" class="tk">0.6</text>
<line x1="590.40" y1="191.88" x2="597.20" y2="191.88" stroke="#0a0a0a" stroke-width="1.5"/>
<text x="577.30" y="198.38" text-anchor="end" class="tk">0.8</text>
<line x1="590.40" y1="133.25" x2="597.20" y2="133.25" stroke="#0a0a0a" stroke-width="1.5"/>
<text x="577.30" y="139.75" text-anchor="end" class="tk">1</text>
<line x1="590.40" y1="74.62" x2="597.20" y2="74.62" stroke="#0a0a0a" stroke-width="1.5"/>
<text x="577.30" y="81.12" text-anchor="end" class="tk">1.2</text>
<line x1="597.20" y1="426.40" x2="597.20" y2="432.80" stroke="#0a0a0a" stroke-width="1.5"/>
<text x="597.20" y="458.8" text-anchor="middle" class="tk">0</text>
<line x1="648.00" y1="426.40" x2="648.00" y2="432.80" stroke="#0a0a0a" stroke-width="1.5"/>
<text x="648.00" y="458.8" text-anchor="middle" class="tk">20</text>
<line x1="698.80" y1="426.40" x2="698.80" y2="432.80" stroke="#0a0a0a" stroke-width="1.5"/>
<text x="698.80" y="458.8" text-anchor="middle" class="tk">40</text>
<line x1="749.60" y1="426.40" x2="749.60" y2="432.80" stroke="#0a0a0a" stroke-width="1.5"/>
<text x="749.60" y="458.8" text-anchor="middle" class="tk">60</text>
<line x1="800.40" y1="426.40" x2="800.40" y2="432.80" stroke="#0a0a0a" stroke-width="1.5"/>
<text x="800.40" y="458.8" text-anchor="middle" class="tk">80</text>
<line x1="851.20" y1="426.40" x2="851.20" y2="432.80" stroke="#0a0a0a" stroke-width="1.5"/>
<text x="851.20" y="458.8" text-anchor="middle" class="tk">100</text>
<line x1="902.00" y1="426.40" x2="902.00" y2="432.80" stroke="#0a0a0a" stroke-width="1.5"/>
<text x="902.00" y="458.8" text-anchor="middle" class="tk">120</text>
<line x1="952.80" y1="426.40" x2="952.80" y2="432.80" stroke="#0a0a0a" stroke-width="1.5"/>
<text x="952.80" y="458.8" text-anchor="middle" class="tk">140</text>
<line x1="1003.60" y1="426.40" x2="1003.60" y2="432.80" stroke="#0a0a0a" stroke-width="1.5"/>
<text x="1003.60" y="458.8" text-anchor="middle" class="tk">160</text>
<text x="771.20" y="25.8" text-anchor="middle" class="ttl" textLength="108.2" lengthAdjust="spacingAndGlyphs">Douglas-fir</text>
<text x="799.90" y="486.9" text-anchor="middle" class="axl" textLength="73.2" lengthAdjust="spacingAndGlyphs">Dbh (cm)</text>
<text transform="translate(536.60,231.2) rotate(-90)" text-anchor="middle" class="axl" textLength="196.3" lengthAdjust="spacingAndGlyphs">DBH increment (cm yr<tspan dy="-5.5" font-size="10.5">-1</tspan><tspan dy="5.5">)</tspan></text>
<line x1="908.20" y1="68.00" x2="936.60" y2="68.00" stroke="#000000" stroke-width="4.0" stroke-linecap="round"/>
<text x="939.90" y="72.20" class="lg" textLength="33.9" lengthAdjust="spacingAndGlyphs">cSDI 0</text>
<line x1="908.20" y1="85.50" x2="936.60" y2="85.50" stroke="#000000" stroke-width="2.7" stroke-linecap="round"/>
<text x="939.90" y="89.70" class="lg" textLength="48.6" lengthAdjust="spacingAndGlyphs">cSDI 300</text>
<line x1="908.20" y1="103.00" x2="936.60" y2="103.00" stroke="#000000" stroke-width="2.7" stroke-linecap="round"/>
<text x="939.90" y="107.20" class="lg" textLength="48.6" lengthAdjust="spacingAndGlyphs">cSDI 600</text>
<line x1="908.20" y1="120.50" x2="936.60" y2="120.50" stroke="#333333" stroke-width="1.85" stroke-linecap="round"/>
<text x="939.90" y="124.70" class="lg" textLength="48.6" lengthAdjust="spacingAndGlyphs">cSDI 900</text>
<line x1="908.20" y1="138.00" x2="936.60" y2="138.00" stroke="#808080" stroke-width="1.55" stroke-linecap="round"/>
<text x="939.90" y="142.20" class="lg" textLength="56.3" lengthAdjust="spacingAndGlyphs">cSDI 1200</text>
<line x1="908.20" y1="155.50" x2="936.60" y2="155.50" stroke="#b6b6b6" stroke-width="1.45" stroke-linecap="round"/>
<text x="939.90" y="159.70" class="lg" textLength="56.3" lengthAdjust="spacingAndGlyphs">cSDI 1500</text>
<line x1="908.20" y1="173.00" x2="936.60" y2="173.00" stroke="#c5c5c5" stroke-width="1.45" stroke-linecap="round"/>
<text x="939.90" y="177.20" class="lg" textLength="56.3" lengthAdjust="spacingAndGlyphs">cSDI 1800</text>
</g>
</svg>
</body></html>
